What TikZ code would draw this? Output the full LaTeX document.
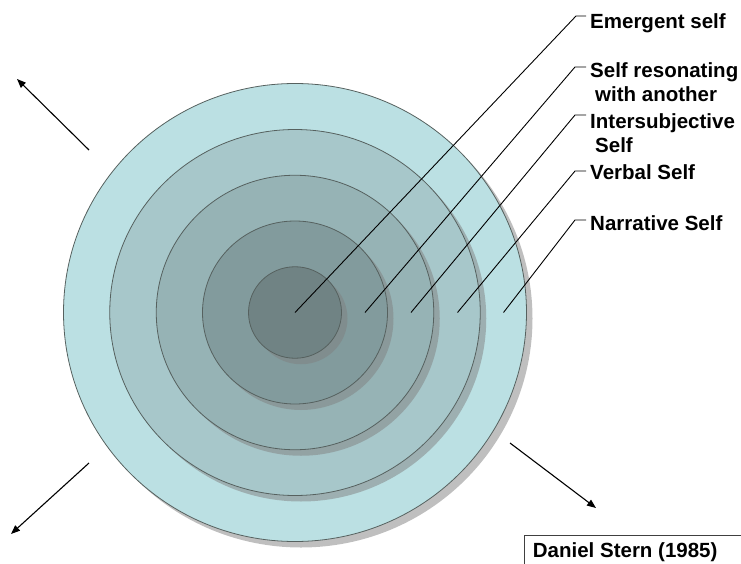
\documentclass[tikz,border=0pt]{standalone}
\usepackage{fontspec}
\setmainfont{Liberation Sans}
\usetikzlibrary{shapes.geometric,shadows,arrows.meta}
\definecolor{Lone}{HTML}{BBE0E3}
\definecolor{Ltwo}{HTML}{A7C7CA}
\definecolor{Lthree}{HTML}{96B3B5}
\definecolor{Lfour}{HTML}{829B9D}
\definecolor{Lfive}{HTML}{708384}
\definecolor{ringedge}{HTML}{56615F}
\begin{document}
\begin{tikzpicture}[x=1pt,y=-1pt,
  ring/.style={ellipse, draw=ringedge, line width=0.8pt, inner sep=0pt,
    drop shadow={shadow xshift=6pt, shadow yshift=-6pt, fill=gray, opacity=0.5}},
  leader/.style={draw=black, line width=0.9pt},
  lbl/.style={anchor=base west, inner sep=0pt, align=left,
    font=\fontsize{20.5pt}{24.5pt}\selectfont\bfseries},
  outarrow/.style={draw=black, line width=1.1pt, -{Triangle[length=9pt,width=7pt]}}
]
\useasboundingbox (0,0) rectangle (741,564);
\clip (0,0) rectangle (741,564);
% rings
\node[ring, fill=Lone,   minimum width=463pt, minimum height=458pt] (c1) at (295,312.5) {};
\node[ring, fill=Ltwo,   minimum width=370.5pt, minimum height=366pt] (c2) at (295,312.5) {};
\node[ring, fill=Lthree, minimum width=277.5pt, minimum height=274.5pt] (c3) at (295,312.5) {};
\node[ring, fill=Lfour,  minimum width=185pt, minimum height=183pt] (c4) at (295,312.5) {};
\node[ring, fill=Lfive,  minimum width=93pt, minimum height=91.5pt] (c5) at (295,312.5) {};
% leader points
\coordinate (s1) at (295,312.5);
\coordinate (s2) at (365,312.5);
\coordinate (s3) at (411,312.5);
\coordinate (s4) at (457.5,312.5);
\coordinate (s5) at (503.5,312.5);
\coordinate (k1) at (576,16);
\coordinate (k2) at (575,67);
\coordinate (k3) at (575,115);
\coordinate (k4) at (575,171);
\coordinate (k5) at (575,220);
\coordinate (t1) at (586,16);
\coordinate (t2) at (586,67);
\coordinate (t3) at (586,115);
\coordinate (t4) at (586,171);
\coordinate (t5) at (586,220);
\draw[leader] (s1) -- (k1) -- (t1);
\draw[leader] (s2) -- (k2) -- (t2);
\draw[leader] (s3) -- (k3) -- (t3);
\draw[leader] (s4) -- (k4) -- (t4);
\draw[leader] (s5) -- (k5) -- (t5);
% labels (base anchor = baseline of last line)
\node[lbl] (l1) at (590,28.3) {Emergent self};
\node[lbl] (l2) at (590,101.8) {Self resonating\\\hspace*{5pt}with another};
\node[lbl] (l3) at (590,152.8) {Intersubjective\\\hspace*{5pt}Self};
\node[lbl] (l4) at (590,179) {Verbal Self};
\node[lbl] (l5) at (590,230) {Narrative Self};
% arrows
\coordinate (a1s) at (89,150);
\coordinate (a1e) at (17,79);
\coordinate (a2s) at (89,463);
\coordinate (a2e) at (11,534);
\coordinate (a3s) at (510,443);
\coordinate (a3e) at (596,508);
\draw[outarrow] (a1s) -- (a1e);
\draw[outarrow] (a2s) -- (a2e);
\draw[outarrow] (a3s) -- (a3e);
% source box
\coordinate (bx1) at (750,535);
\coordinate (bx2) at (524,535);
\coordinate (bx3) at (524,575);
\draw[draw=black!75, line width=0.9pt] (bx1) -- (bx2) -- (bx3);
\node[lbl] (src) at (532.7,557.7) {Daniel Stern (1985)};
\end{tikzpicture}
\end{document}
